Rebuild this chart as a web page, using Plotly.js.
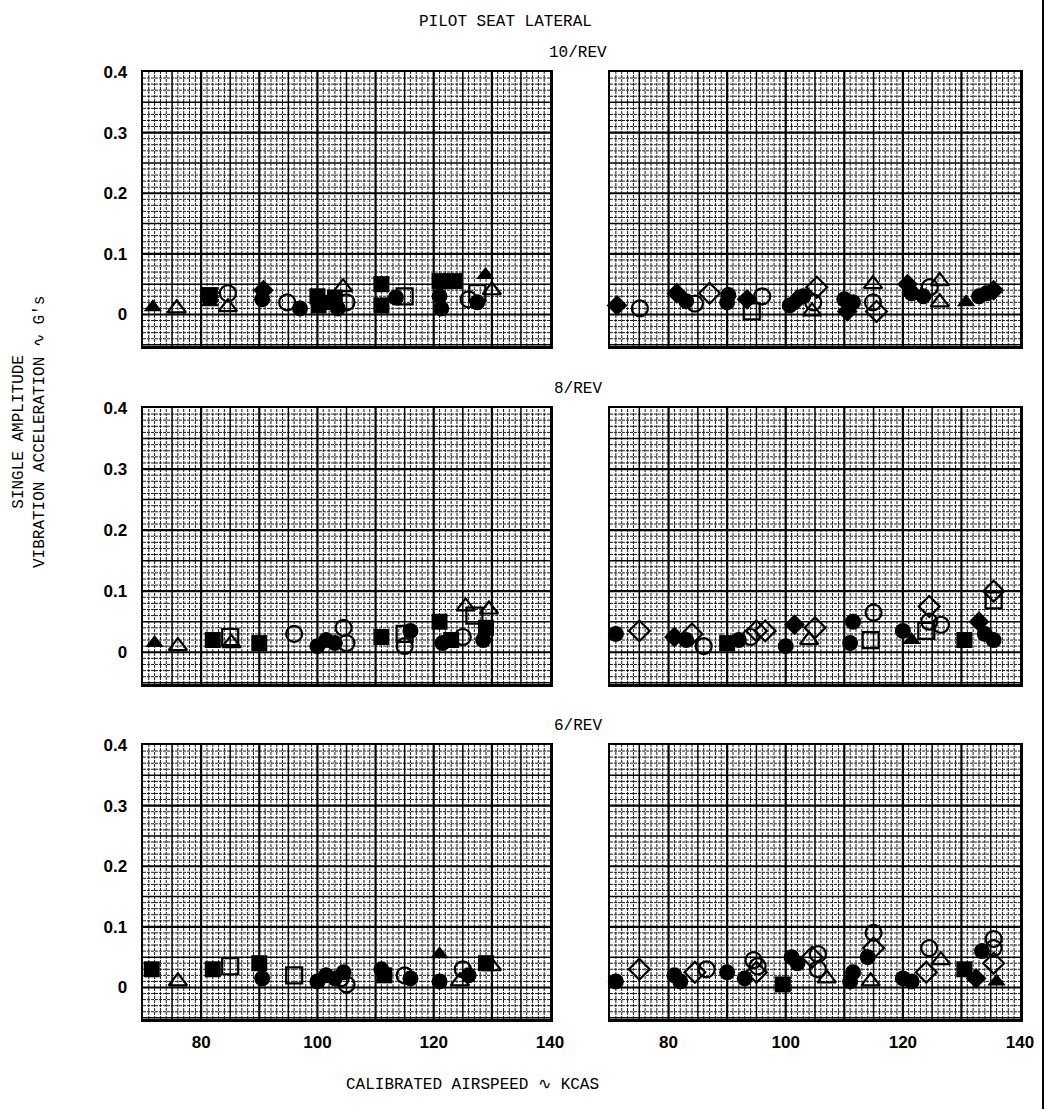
<!DOCTYPE html>
<html>
<head>
<meta charset="utf-8">
<script src="https://cdn.plot.ly/plotly-3.0.1.min.js"></script>
<style>html,body{margin:0;padding:0;background:#fff;}#chart{width:1046px;height:1109px;}</style>
</head>
<body>
<div id="chart"></div>
<script>
// Point categories: F/O = filled/open, T/C/S/D = triangle/circle/square/diamond
const rev10LeftX = [71.7,75.8,81.5,81.5,84.6,84.6,90.7,90.5,94.8,97.0,100.0,100.2,102.0,103.5,103.0,104.4,105.0,111.0,111.0,113.5,115.0,121.0,123.5,121.0,121.3,126.0,127.5,127.5,128.9,130.0];
const rev10LeftY = [0.012,0.010,0.020,0.032,0.012,0.035,0.040,0.025,0.020,0.010,0.030,0.015,0.020,0.010,0.028,0.045,0.020,0.050,0.015,0.028,0.030,0.055,0.055,0.030,0.010,0.025,0.020,0.035,0.065,0.040];
const rev10LeftCat = ['FT','OT','FT','FS','OT','OC','FD','FC','OC','FC','FS','FS','FC','FC','FS','OT','OC','FS','FS','FC','OS','FS','FS','FC','FC','OC','FC','OS','FT','OT'];

const rev10RightX = [71.2,75.1,81.4,83.0,84.5,87.0,90.0,90.2,93.4,94.2,96.0,100.7,102.0,103.0,104.7,105.3,104.5,110.0,110.5,111.5,114.9,114.9,115.5,120.8,121.5,123.5,124.6,126.3,126.3,130.8,133.0,134.3,135.5];
const rev10RightY = [0.015,0.010,0.035,0.022,0.018,0.035,0.020,0.032,0.025,0.005,0.030,0.015,0.025,0.030,0.020,0.045,0.005,0.025,0.005,0.020,0.050,0.020,0.005,0.050,0.035,0.030,0.045,0.055,0.020,0.020,0.030,0.035,0.040];
const rev10RightCat = ['FD','OC','FD','FC','OC','OD','FC','FC','FD','OS','OC','FC','FD','FC','OC','OD','OT','FC','FD','FC','OT','OC','OD','FD','FC','FC','OC','OT','OT','FT','FC','FC','FD'];

const rev8LeftX = [72.0,76.0,82.0,85.0,85.2,90.0,96.0,100.0,101.5,103.0,104.5,105.0,111.0,115.0,115.0,116.0,121.0,121.5,123.0,125.5,125.0,127.0,129.5,129.0,128.5];
const rev8LeftY = [0.015,0.010,0.020,0.025,0.015,0.015,0.030,0.010,0.020,0.015,0.040,0.015,0.025,0.030,0.010,0.035,0.050,0.015,0.020,0.075,0.025,0.060,0.070,0.040,0.020];
const rev8LeftCat = ['FT','OT','FS','OS','OT','FS','OC','FC','FC','FC','OC','OC','FS','OS','OC','FC','FS','FC','FS','OT','OC','OS','OT','FS','FC'];

const rev8RightX = [71.0,75.0,81.0,83.0,84.0,86.0,90.0,92.0,94.0,95.0,96.5,100.0,101.5,105.0,104.0,111.5,111.0,115.0,114.5,120.0,121.5,124.5,124.5,124.0,126.5,130.5,133.0,134.0,135.5,135.5,135.5];
const rev8RightY = [0.030,0.035,0.025,0.020,0.030,0.010,0.015,0.020,0.025,0.035,0.035,0.010,0.045,0.040,0.020,0.050,0.015,0.065,0.020,0.035,0.020,0.075,0.050,0.035,0.045,0.020,0.050,0.030,0.100,0.085,0.020];
const rev8RightCat = ['FC','OD','FD','FC','OD','OC','FS','FC','OC','OD','OD','FC','FD','OD','OT','FC','FC','OC','OS','FC','FT','OD','OC','OS','OC','FS','FD','FC','OD','OS','FC'];

const rev6LeftX = [71.5,76.0,82.0,85.0,90.0,90.5,96.0,100.0,101.5,103.0,104.0,104.5,105.0,111.0,111.5,115.0,116.0,121.0,121.0,124.5,125.0,126.0,129.0,130.0];
const rev6LeftY = [0.030,0.010,0.030,0.035,0.040,0.015,0.020,0.010,0.020,0.015,0.015,0.025,0.005,0.030,0.020,0.020,0.015,0.055,0.010,0.010,0.030,0.020,0.040,0.035];
const rev6LeftCat = ['FS','OT','FS','OS','FS','FC','OS','FC','FC','FC','OC','FC','OC','FC','FS','OC','FC','FT','FC','OT','OC','FC','FS','OT'];

const rev6RightX = [71.0,75.0,81.0,82.0,84.5,86.5,90.0,93.0,94.5,95.0,95.2,99.5,101.0,102.0,104.5,105.5,105.5,107.0,111.0,111.5,114.5,115.0,115.0,114.0,120.0,121.5,124.5,124.0,126.5,130.5,132.5,133.5,135.5,135.5,135.5,136.0];
const rev6RightY = [0.010,0.030,0.020,0.010,0.025,0.030,0.025,0.015,0.045,0.025,0.035,0.005,0.050,0.040,0.050,0.055,0.030,0.015,0.010,0.025,0.010,0.090,0.065,0.050,0.015,0.010,0.065,0.025,0.045,0.030,0.015,0.060,0.080,0.065,0.040,0.010];
const rev6RightCat = ['FC','OD','FC','FC','OD','OC','FC','FC','OC','OD','OC','FS','FC','FC','OD','OC','OC','OT','FC','FC','OT','OC','OD','FC','FC','FC','OC','OD','OT','FS','FD','FC','OC','OC','OD','FT'];

const xTickVals = [80, 100, 120, 140];
const yTickVals = [0, 0.1, 0.2, 0.3, 0.4];
const yTickText = ['0', '0.1', '0.2', '0.3', '0.4'];
const rowTitles = ['10/REV', '8/REV', '6/REV'];

// ---- layout geometry ----
const W = 1046, H = 1109;
const X_RANGE = [70, 140], Y_RANGE = [-0.052, 0.4];
const colPx = [[143, 550], [610, 1020]];
const rowPx = [[72, 346], [408, 684], [745, 1019]];
const px2x = p => p / W;
const py2y = p => 1 - p / H;

const symMap = {
  FT: 'triangle-up', OT: 'triangle-up-open',
  FC: 'circle', OC: 'circle-open',
  FS: 'square', OS: 'square-open',
  FD: 'diamond', OD: 'diamond-open'
};

const panels = [
  [rev10LeftX, rev10LeftY, rev10LeftCat], [rev10RightX, rev10RightY, rev10RightCat],
  [rev8LeftX, rev8LeftY, rev8LeftCat], [rev8RightX, rev8RightY, rev8RightCat],
  [rev6LeftX, rev6LeftY, rev6LeftCat], [rev6RightX, rev6RightY, rev6RightCat]
];

const data = [];
const layout = {
  width: W, height: H,
  margin: {l: 0, r: 0, t: 0, b: 0},
  paper_bgcolor: '#fff', plot_bgcolor: '#fff',
  showlegend: false,
  font: {family: 'Liberation Sans, Arial, sans-serif', color: '#000'},
  shapes: [], annotations: []
};

// graph-paper rulings: build path strings (1 kt / 0.01 minor, 5 / 0.05 medium, 10 / 0.1 major)
function rulings(level) {
  let d = '';
  for (let k = 71; k < 140; k++) {
    const lv = (k % 10 === 0) ? 2 : (k % 5 === 0 ? 1 : 0);
    if (lv === level) d += 'M' + k + ',' + Y_RANGE[0] + 'L' + k + ',' + Y_RANGE[1];
  }
  for (let k = -5; k < 40; k++) {
    const lv = (k % 10 === 0) ? 2 : (k % 5 === 0 ? 1 : 0);
    const v = (k / 100).toFixed(2);
    if (lv === level) d += 'M' + X_RANGE[0] + ',' + v + 'L' + X_RANGE[1] + ',' + v;
  }
  return d;
}
const rulePaths = [rulings(0), rulings(1), rulings(2)];
const ruleStyle = [
  {color: '#1a1a1a', width: 1, dash: '3px,1px'},
  {color: '#000', width: 1.5, dash: 'solid'},
  {color: '#000', width: 2.2, dash: 'solid'}
];

panels.forEach((p, i) => {
  const row = Math.floor(i / 2), col = i % 2;
  const idx = i + 1;
  const sfx = idx === 1 ? '' : String(idx);
  const xa = 'xaxis' + sfx, ya = 'yaxis' + sfx;
  const xr = 'x' + sfx, yr = 'y' + sfx;
  layout[xa] = {
    domain: [px2x(colPx[col][0]), px2x(colPx[col][1])],
    anchor: yr, range: X_RANGE,
    tickmode: 'array', tickvals: xTickVals,
    showticklabels: row === 2,
    ticks: '', showgrid: false,
    showline: true, mirror: true, linecolor: '#000', linewidth: 2.5,
    zeroline: false, fixedrange: true,
    tickfont: {size: 17, weight: 'bold', family: 'Liberation Sans, Arial, sans-serif'},
    ticklabelstandoff: 6
  };
  layout[ya] = {
    domain: [py2y(rowPx[row][1]), py2y(rowPx[row][0])],
    anchor: xr, range: Y_RANGE,
    tickmode: 'array', tickvals: yTickVals, ticktext: yTickText,
    showticklabels: col === 0,
    ticks: '', showgrid: false,
    showline: true, mirror: true, linecolor: '#000', linewidth: 2.5,
    zeroline: false, fixedrange: true,
    tickfont: {size: 17, weight: 'bold', family: 'Liberation Sans, Arial, sans-serif'},
    ticklabelstandoff: 10
  };
  rulePaths.forEach((d, lv) => {
    layout.shapes.push({type: 'path', layer: 'below', xref: xr, yref: yr, path: d, line: ruleStyle[lv]});
  });
  // points grouped by category
  Object.keys(symMap).forEach(cat => {
    const xs = [], ys = [];
    p[2].forEach((c, j) => { if (c === cat) { xs.push(p[0][j]); ys.push(p[1][j]); } });
    if (!xs.length) return;
    const open = cat[0] === 'O';
    data.push({
      type: 'scatter', mode: 'markers', x: xs, y: ys, xaxis: xr, yaxis: yr,
      cliponaxis: false, hoverinfo: 'skip',
      marker: {symbol: symMap[cat], size: 16, color: '#000', line: {color: '#000', width: open ? 2.2 : 0}}
    });
  });
});

const tw = 'Liberation Mono, DejaVu Sans Mono, monospace';
layout.annotations.push({xref: 'paper', yref: 'paper', x: px2x(505), y: py2y(22), text: 'PILOT SEAT LATERAL',
  showarrow: false, font: {family: tw, size: 16}, xanchor: 'center', yanchor: 'middle'});
rowTitles.forEach((t, r) => {
  layout.annotations.push({xref: 'paper', yref: 'paper', x: px2x(578), y: py2y(rowPx[r][0] - 19), text: t,
    showarrow: false, font: {family: tw, size: 16}, xanchor: 'center', yanchor: 'middle'});
});
layout.annotations.push({xref: 'paper', yref: 'paper', x: px2x(472), y: py2y(1085), text: 'CALIBRATED AIRSPEED \u223F KCAS',
  showarrow: false, font: {family: tw, size: 16}, xanchor: 'center', yanchor: 'middle'});
layout.annotations.push({xref: 'paper', yref: 'paper', x: px2x(30), y: py2y(432),
  text: 'SINGLE AMPLITUDE<br>VIBRATION ACCELERATION \u223F G\'s', textangle: -90,
  showarrow: false, font: {family: tw, size: 16}, xanchor: 'center', yanchor: 'middle', align: 'center'});
layout.shapes.push({type: 'line', xref: 'paper', yref: 'paper', x0: px2x(1043), x1: px2x(1043), y0: 0, y1: 1,
  line: {color: '#000', width: 2}});

Plotly.newPlot('chart', data, layout, {displayModeBar: false, staticPlot: true});
</script>
</body>
</html>
